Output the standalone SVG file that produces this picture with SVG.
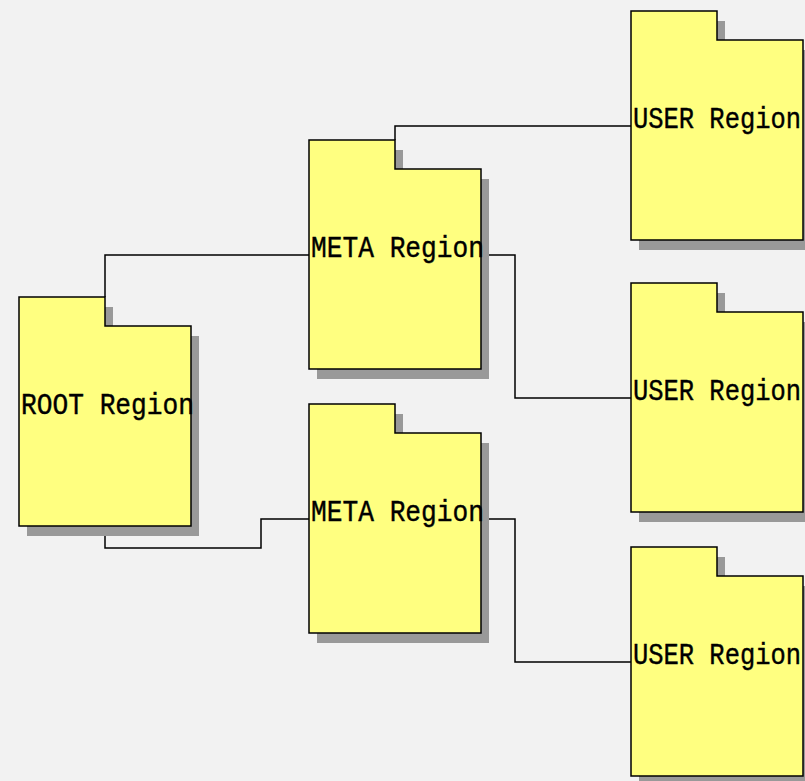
<svg xmlns="http://www.w3.org/2000/svg" width="805" height="781" viewBox="0 0 805 781">
  <defs>
    <!-- folder outline: tab 86 wide, body 172x200, total height 229 -->
    <path id="folder" d="M0,0 H86 V29 H172 V229 H0 Z"/>
  </defs>
  <style>
    .shadow { fill: #999999; }
    .body { fill: #ffff80; stroke: #000; stroke-width: 1.5; }
    .label { font-family: "Liberation Mono", "DejaVu Sans Mono", monospace; font-size: 29px; fill: #000; stroke: #000; stroke-width: 0.4; }
    .conn { fill: none; stroke: #000; stroke-width: 1.5; }
  </style>
  <rect width="805" height="781" fill="#f2f2f2"/>

  <g id="connectors">
    <polyline class="conn" points="105,297 105,255 309,255"/>
    <polyline class="conn" points="105,526 105,548 261,548 261,519 309,519"/>
    <polyline class="conn" points="395,140 395,126 631,126"/>
    <polyline class="conn" points="481,255 515,255 515,398 631,398"/>
    <polyline class="conn" points="481,519 515,519 515,662 631,662"/>
  </g>

  <g id="root-region" transform="translate(19,297)">
    <use href="#folder" class="shadow" x="8" y="10"/>
    <use href="#folder" class="body"/>
    <text class="label" x="2" y="117" textLength="173" lengthAdjust="spacingAndGlyphs">ROOT Region</text>
  </g>

  <g id="meta-region-1" transform="translate(309,140)">
    <use href="#folder" class="shadow" x="8" y="10"/>
    <use href="#folder" class="body"/>
    <text class="label" x="2" y="117" textLength="173" lengthAdjust="spacingAndGlyphs">META Region</text>
  </g>

  <g id="meta-region-2" transform="translate(309,404)">
    <use href="#folder" class="shadow" x="8" y="10"/>
    <use href="#folder" class="body"/>
    <text class="label" x="2" y="117" textLength="173" lengthAdjust="spacingAndGlyphs">META Region</text>
  </g>

  <g id="user-region-1" transform="translate(631,11)">
    <use href="#folder" class="shadow" x="8" y="10"/>
    <use href="#folder" class="body"/>
    <text class="label" x="2" y="117" textLength="168" lengthAdjust="spacingAndGlyphs">USER Region</text>
  </g>

  <g id="user-region-2" transform="translate(631,283)">
    <use href="#folder" class="shadow" x="8" y="10"/>
    <use href="#folder" class="body"/>
    <text class="label" x="2" y="117" textLength="168" lengthAdjust="spacingAndGlyphs">USER Region</text>
  </g>

  <g id="user-region-3" transform="translate(631,547)">
    <use href="#folder" class="shadow" x="8" y="10"/>
    <use href="#folder" class="body"/>
    <text class="label" x="2" y="117" textLength="168" lengthAdjust="spacingAndGlyphs">USER Region</text>
  </g>
</svg>
